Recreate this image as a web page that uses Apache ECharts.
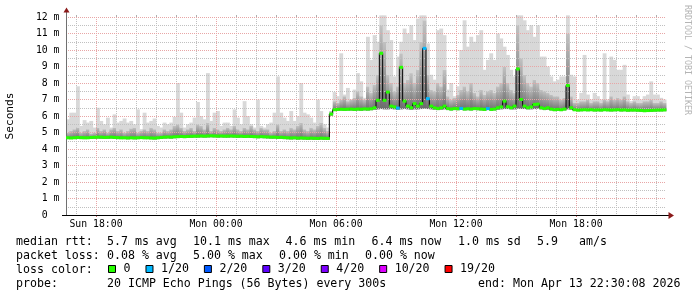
<!DOCTYPE html>
<html>
<head>
<meta charset="utf-8">
<script src="https://cdn.jsdelivr.net/npm/echarts@6/dist/echarts.min.js"></script>
<style>
  html, body { margin: 0; padding: 0; background: #fff; }
  #chart { width: 697px; height: 297px; }
</style>
</head>
<body>
<div id="chart"></div>
<script>
// ---- Time base: 10-minute steps from Sun 16:30 (hours since Sun 00:00) ----
const START_HOUR = 16.5;
const STEP_HOURS = 1 / 6;

// ---- Tick positions (hours since Sun 00:00) ----
const majorTicks = [18, 24, 30, 36, 42];
const minorTicks = [17, 19, 20, 21, 22, 23, 25, 26, 27, 28, 29, 31, 32, 33, 34, 35, 37, 38, 39, 40, 41, 43, 44, 45, 46];
const dayNames = ['Sun', 'Mon'];

// ---- Median RTT (ms) per 10-minute step ----
const median = [
  4.68,4.67,4.68,4.70,4.69,4.68,4.68,4.70,4.71,4.72,4.72,4.70,
  4.71,4.72,4.70,4.69,4.68,4.68,4.67,4.68,4.67,4.68,4.69,4.68,
  4.68,4.67,4.66,4.68,4.70,4.72,4.73,4.72,4.74,4.75,4.76,4.75,
  4.76,4.77,4.78,4.78,4.79,4.78,4.79,4.80,4.79,4.78,4.79,4.78,
  4.78,4.79,4.78,4.77,4.78,4.76,4.77,4.76,4.75,4.74,4.75,4.74,
  4.73,4.72,4.72,4.70,4.71,4.69,4.68,4.67,4.68,4.66,4.67,4.66,
  4.65,4.66,4.65,4.64,4.66,4.65,4.64,6.12,6.38,6.40,6.41,6.40,
  6.41,6.42,6.40,6.42,6.41,6.43,6.42,6.44,6.50,6.95,9.80,6.95,
  7.45,6.60,6.55,6.48,8.95,6.90,6.60,6.50,6.75,6.60,6.75,10.10,
  7.05,6.60,6.50,6.45,6.50,6.60,6.45,6.42,6.45,6.44,6.46,6.42,
  6.44,6.42,6.45,6.44,6.42,6.40,6.45,6.40,6.42,6.50,6.55,6.90,
  6.56,6.50,6.60,8.85,7.00,6.60,6.50,6.55,6.70,6.72,6.50,6.45,
  6.50,6.42,6.38,6.40,6.38,6.42,7.85,6.50,6.38,6.36,6.37,6.38,
  6.37,6.38,6.36,6.37,6.36,6.38,6.37,6.36,6.37,6.38,6.36,6.37,
  6.35,6.36,6.36,6.35,6.34,6.32,6.33,6.34,6.35,6.36,6.36,6.37
];

// ---- Lost pings (of 20) per step ----
const lossCount = [
  0,0,0,0,0,0,0,0,0,0,0,0,
  0,0,0,0,0,0,0,0,0,0,0,0,
  0,0,0,0,0,0,0,0,0,0,0,0,
  0,0,0,0,0,0,0,0,0,0,0,0,
  0,0,0,0,0,0,0,0,0,0,0,0,
  0,0,0,0,0,0,0,0,0,0,0,0,
  0,0,0,0,0,0,0,0,0,0,0,0,
  0,0,0,0,0,0,0,0,0,0,0,0,
  0,0,0,1,0,0,0,0,0,0,0,1,
  1,0,0,0,0,0,0,0,0,0,1,0,
  0,0,0,0,0,0,1,0,0,0,0,0,
  0,0,0,0,0,0,0,0,0,0,0,0,
  0,0,0,0,0,0,0,0,0,0,0,0,
  0,0,0,0,0,0,0,0,0,0,0,0,
  0,0,0,0,0,0,0,0,0,0,0,0
];

// ---- Smoke: lowest ping, upper edge of dense smoke, highest ping (ms) ----
const smokeMin = [
  4.60,4.60,4.61,4.62,4.60,4.60,4.61,4.62,4.62,4.63,4.62,4.61,
  4.62,4.63,4.61,4.60,4.60,4.60,4.59,4.60,4.59,4.60,4.61,4.60,
  4.60,4.59,4.58,4.60,4.62,4.63,4.64,4.63,4.65,4.66,4.67,4.66,
  4.67,4.68,4.69,4.69,4.70,4.69,4.70,4.71,4.70,4.69,4.70,4.69,
  4.69,4.70,4.69,4.68,4.69,4.67,4.68,4.67,4.66,4.65,4.66,4.65,
  4.64,4.63,4.63,4.61,4.62,4.60,4.59,4.58,4.59,4.57,4.58,4.57,
  4.56,4.57,4.56,4.55,4.57,4.56,4.55,6.02,6.30,6.32,6.33,6.32,
  6.33,6.33,6.31,6.33,6.32,6.34,6.33,6.35,6.38,6.40,6.42,6.40,
  6.40,6.42,6.40,6.38,6.40,6.42,6.40,6.38,6.40,6.40,6.42,6.44,
  6.42,6.40,6.38,6.36,6.38,6.40,6.36,6.34,6.36,6.35,6.37,6.34,
  6.35,6.34,6.36,6.35,6.34,6.32,6.36,6.32,6.34,6.38,6.40,6.42,
  6.42,6.40,6.40,6.44,6.42,6.42,6.40,6.40,6.42,6.44,6.40,6.36,
  6.38,6.34,6.30,6.32,6.30,6.34,6.40,6.38,6.30,6.28,6.29,6.30,
  6.29,6.30,6.28,6.29,6.28,6.30,6.29,6.28,6.29,6.30,6.28,6.29,
  6.27,6.28,6.28,6.27,6.26,6.24,6.25,6.26,6.27,6.28,6.28,6.29
];
const smokeMid = [
  5.00,5.10,5.20,5.30,5.00,5.10,5.20,4.95,5.00,5.30,5.10,5.20,
  5.00,5.20,5.30,5.10,5.20,5.00,5.10,5.25,5.30,5.00,5.10,5.20,
  5.10,5.30,5.20,5.00,5.00,5.20,5.10,5.20,5.40,5.50,5.30,5.10,
  5.20,5.30,5.10,5.50,5.40,5.20,5.60,5.10,5.30,5.20,5.10,5.20,
  5.30,5.20,5.40,5.20,5.10,5.30,5.20,5.40,5.20,5.10,5.30,5.20,
  5.20,5.00,5.10,5.50,5.10,5.20,5.10,5.30,5.20,5.40,5.60,5.20,
  5.10,5.30,5.20,5.40,5.60,5.30,5.10,6.30,6.90,6.80,7.00,7.20,
  6.90,7.00,7.10,7.50,7.20,7.00,7.80,7.40,7.90,8.50,11.50,10.50,
  8.50,8.00,7.50,7.80,9.80,8.00,8.20,8.60,8.00,8.80,10.50,11.80,
  8.50,7.60,7.50,8.00,7.80,8.80,7.20,7.00,7.10,7.30,7.60,7.80,
  7.50,8.00,7.40,7.20,7.60,7.30,7.50,7.60,7.40,7.80,8.00,9.00,
  8.00,7.60,7.40,11.50,9.50,8.50,8.00,7.80,8.20,8.00,7.60,7.50,
  7.40,7.30,7.20,7.20,7.00,7.10,11.00,7.20,6.80,6.80,6.90,6.90,
  7.00,6.80,6.90,6.90,6.80,7.00,6.90,7.20,7.00,7.10,7.00,7.20,
  6.90,6.80,6.90,6.80,6.80,6.90,6.90,7.00,6.80,6.80,6.90,6.80
];
const smokeMax = [
  5.80,6.20,6.20,7.80,5.40,5.75,5.60,5.70,5.30,6.50,5.70,5.50,
  5.90,5.30,6.10,5.60,5.70,5.85,5.60,5.70,5.50,6.40,5.20,6.20,
  5.60,5.70,5.85,5.40,5.30,5.60,5.50,5.60,5.95,8.00,6.20,5.30,
  5.50,5.60,5.90,6.85,6.00,5.80,8.60,5.70,6.20,6.30,5.40,5.60,
  5.60,5.40,6.40,5.90,5.50,6.90,6.00,5.50,5.30,7.00,5.40,5.30,
  5.50,5.60,6.20,8.40,6.20,5.90,5.70,6.30,5.70,6.00,8.00,6.20,
  6.10,5.90,5.60,7.00,6.30,5.50,5.30,6.30,7.45,7.20,9.80,7.30,
  7.70,7.00,7.60,8.60,8.10,7.10,10.80,9.40,10.90,10.50,12.10,12.10,
  11.20,10.60,8.40,9.60,10.50,11.30,11.00,11.50,10.60,11.90,12.10,12.10,
  10.40,8.50,8.20,11.20,11.30,10.90,7.60,8.00,7.20,7.80,10.00,11.80,
  10.20,10.80,10.50,10.90,11.20,8.80,9.40,9.80,9.40,11.00,10.70,10.20,
  9.70,8.80,8.40,12.10,12.10,11.80,11.20,11.50,10.80,11.50,9.60,9.60,
  9.00,8.40,8.10,8.20,8.40,8.40,12.10,8.50,8.40,7.00,7.40,9.70,
  7.30,7.00,7.40,7.20,7.00,9.80,7.00,9.60,9.40,8.80,8.80,9.10,
  7.30,6.90,7.20,7.20,7.00,7.20,7.30,8.10,7.30,7.30,7.10,7.00
];

// ---- Loss colour legend ----
const lossNames  = ['0', '1/20', '2/20', '3/20', '4/20', '10/20', '19/20'];
const lossColors = ['#26ff00', '#00b8ff', '#0059ff', '#5e00ff', '#7e00ff', '#dd00ff', '#ff0000'];
const lossFrom   = [0, 1, 2, 3, 4, 10, 19];   // lowest lost-ping count for each legend level

// ---- Text rows under the chart ----
const rowMedian = [[16, 'median rtt:'], [107, '5.7 ms avg'], [193, '10.1 ms max'], [285.5, '4.6 ms min'], [371.5, '6.4 ms now'], [458, '1.0 ms sd'], [537, '5.9'], [579, 'am/s']];
const rowLoss   = [[16, 'packet loss:'], [107, '0.08 % avg'], [193, '5.00 % max'], [279, '0.00 % min'], [365, '0.00 % now']];
const rowColor  = [[16, 'loss color:']];
const rowProbe  = [[16, 'probe:'], [107, '20 ICMP Echo Pings (56 Bytes) every 300s']];
const endText = 'end: Mon Apr 13 22:30:08 2026';
const sideText = 'RRDTOOL / TOBI OETIKER';

// ------------------------------------------------------------------
const MONO = "'DejaVu Sans Mono', monospace";
const chart = echarts.init(document.getElementById('chart'), null, { renderer: 'canvas' });

function levelOf(c) {
  let k = 0;
  for (let j = 0; j < lossFrom.length; j++) if (c >= lossFrom[j]) k = j;
  return k;
}

const smokeData = median.map((m, i) => [START_HOUR + i * STEP_HOURS, smokeMin[i], smokeMid[i], smokeMax[i]]);
const lineData = median.map((m, i) => [START_HOUR + i * STEP_HOURS, m, i > 0 ? median[i - 1] : m]);

function renderSmoke(params, api) {
  const t = api.value(0);
  const pMin = api.coord([t, api.value(1)]);
  const pMid = api.coord([t, api.value(2)]);
  const pMax = api.coord([t, api.value(3)]);
  const x1 = api.coord([t + STEP_HOURS, 0])[0];
  const w = x1 - pMin[0] + 0.5;
  return {
    type: 'group',
    children: [
      { type: 'rect', shape: { x: pMin[0], y: pMax[1], width: w, height: pMid[1] - pMax[1] },
        style: { fill: '#d8d8d8' } },
      { type: 'rect', shape: { x: pMin[0], y: pMid[1], width: w, height: pMin[1] - pMid[1] },
        style: { fill: new echarts.graphic.LinearGradient(0, 0, 0, 1, [
          { offset: 0, color: '#c2c2c2' }, { offset: 1, color: '#6c6c6c' }]) } }
    ]
  };
}

function renderBlack(params, api) {
  const t = api.value(0);
  const a = api.coord([t, api.value(1)]);
  const prev = api.coord([t, api.value(2)]);
  const b = api.coord([t + STEP_HOURS, api.value(1)]);
  return {
    type: 'group',
    children: [
      { type: 'line', shape: { x1: a[0], y1: prev[1], x2: a[0], y2: a[1] }, style: { stroke: '#000', lineWidth: 1 } },
      { type: 'line', shape: { x1: a[0], y1: a[1], x2: b[0], y2: b[1] }, style: { stroke: '#000', lineWidth: 1 } }
    ]
  };
}

function makeColorRender(color) {
  return function (params, api) {
    const t = api.value(0);
    const a = api.coord([t, api.value(1)]);
    const b = api.coord([t + STEP_HOURS, api.value(1)]);
    return { type: 'rect', shape: { x: a[0], y: a[1] - 1.5, width: b[0] - a[0] + 0.4, height: 3 },
             style: { fill: color } };
  };
}

const series = [
  { name: 'smoke', type: 'custom', z: 1, renderItem: renderSmoke, data: smokeData, silent: true, clip: false },
  { name: 'median', type: 'custom', z: 3, renderItem: renderBlack, data: lineData, silent: true, clip: false }
];
lossNames.forEach((name, k) => {
  series.push({
    name: name, type: 'custom', z: 4, clip: false, silent: true,
    itemStyle: { color: lossColors[k] },
    renderItem: makeColorRender(lossColors[k]),
    data: median.map((m, i) => [START_HOUR + i * STEP_HOURS, m, lossCount[i]])
                .filter(d => levelOf(d[2]) === k)
  });
});

function hourLabel(v) {
  const day = dayNames[Math.floor(v / 24)];
  const h = Math.round(v % 24);
  return day + ' ' + (h < 10 ? '0' : '') + h + ':00';
}

const graphics = [];
function addRow(items, y) {
  items.forEach(([x, s]) => graphics.push({
    type: 'text', x: x, y: y, silent: true,
    style: { text: s, font: '11.6px ' + MONO, fill: '#000', align: 'left', verticalAlign: 'middle' }
  }));
}
addRow(rowMedian, 241.5);
addRow(rowLoss, 255.5);
addRow(rowColor, 269.5);
addRow(rowProbe, 283.5);
graphics.push({ type: 'text', x: 680.5, y: 283.5, silent: true,
  style: { text: endText, font: '11.6px ' + MONO, fill: '#000', align: 'right', verticalAlign: 'middle' } });
graphics.push({ type: 'text', x: 687.5, y: 60, rotation: -Math.PI / 2, silent: true,
  style: { text: sideText, font: '8.3px ' + MONO, fill: '#b4b4b4', align: 'center', verticalAlign: 'middle' } });
// axis extensions and arrows
graphics.push({ type: 'line', silent: true, z: 10, shape: { x1: 66.5, y1: 17, x2: 66.5, y2: 12 }, style: { stroke: '#707070', lineWidth: 1 } });
graphics.push({ type: 'polygon', silent: true, z: 10, shape: { points: [[63.5, 12.5], [69.5, 12.5], [66.5, 7.5]] }, style: { fill: '#8b1a1a' } });
graphics.push({ type: 'line', silent: true, z: 10, shape: { x1: 62, y1: 215.5, x2: 669, y2: 215.5 }, style: { stroke: '#000', lineWidth: 1 } });
graphics.push({ type: 'polygon', silent: true, z: 10, shape: { points: [[668.5, 212], [668.5, 219], [674, 215.5]] }, style: { fill: '#8b1a1a' } });

const option = {
  animation: false,
  backgroundColor: '#ffffff',
  grid: { left: 66, right: 31, top: 17, bottom: 82, containLabel: false, outerBoundsMode: 'none' },
  xAxis: [
    {
      type: 'value', min: START_HOUR, max: START_HOUR + 30, z: 2,
      axisLine: { show: true, lineStyle: { color: '#000', width: 1 } },
      axisTick: { show: true, customValues: majorTicks, length: 2, lineStyle: { color: '#d07070' } },
      axisLabel: { show: true, customValues: majorTicks, formatter: hourLabel, margin: 4,
                   fontFamily: MONO, fontSize: 9.8, color: '#000' },
      splitLine: { show: true, lineStyle: { color: '#e8a6a6', width: 1, type: [1, 1] } }
    },
    {
      type: 'value', min: START_HOUR, max: START_HOUR + 30, z: 1, gridIndex: 0,
      axisLine: { show: false },
      axisTick: { show: true, customValues: minorTicks, length: 2, lineStyle: { color: '#b0b0b0' } },
      axisLabel: { show: false },
      splitLine: { show: true, lineStyle: { color: '#c0c0c0', width: 1, type: [1, 1] } }
    }
  ],
  yAxis: {
    type: 'value', min: 0, max: 12, interval: 1, z: 2,
    name: 'Seconds', nameLocation: 'middle', nameRotate: 90, nameGap: 50,
    nameTextStyle: { fontFamily: MONO, fontSize: 11.2, color: '#000' },
    axisLine: { show: true, lineStyle: { color: '#707070', width: 1 } },
    axisTick: { show: false },
    axisLabel: { formatter: v => (v === 0 ? '0  ' : v + ' m'), margin: 6.5,
                 fontFamily: MONO, fontSize: 9.8, color: '#000' },
    splitLine: { show: true, lineStyle: { color: '#e8a6a6', width: 1, type: [1, 1] } },
    minorTick: { show: false, splitNumber: 2 },
    minorSplitLine: { show: true, lineStyle: { color: '#c0c0c0', width: 1, type: [1, 1] } }
  },
  legend: {
    data: lossNames, left: 108, top: 263, padding: 0, orient: 'horizontal',
    itemWidth: 7, itemHeight: 7, itemGap: 15, icon: 'rect', selectedMode: false,
    itemStyle: { borderColor: '#000', borderWidth: 1 },
    textStyle: { fontFamily: MONO, fontSize: 11.6, color: '#000', padding: [0, 0, 0, 3] }
  },
  graphic: graphics,
  series: series
};
chart.setOption(option);
</script>
</body>
</html>
